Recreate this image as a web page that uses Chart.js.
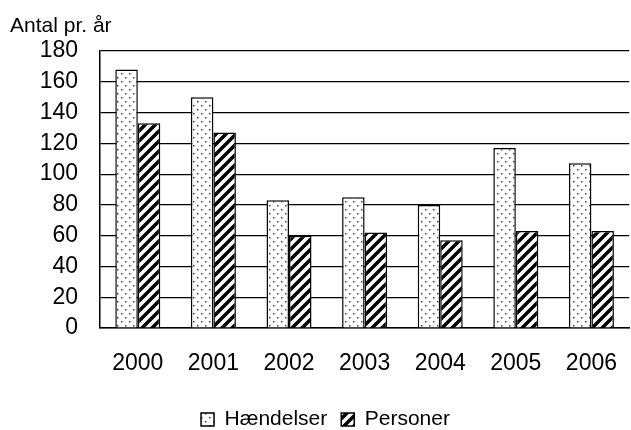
<!DOCTYPE html>
<html lang="da">
<head>
    <meta charset="UTF-8">
    <title>Antal pr. år</title>
    <script src="https://cdn.jsdelivr.net/npm/chart.js"></script>
    <style>
        html, body { margin: 0; padding: 0; background: #fff; }
        #wrap { width: 631px; height: 430px; }
    </style>
</head>
<body>
    <div id="wrap"><canvas id="chart" width="631" height="430"></canvas></div>

    <script>
        // Data
        const years = ['2000', '2001', '2002', '2003', '2004', '2005', '2006'];
        const haendelser = [168, 150, 83, 85, 80, 117, 107];
        const personer = [133, 127, 60, 62, 57, 63, 63];
        const yTicks = [0, 20, 40, 60, 80, 100, 120, 140, 160, 180];

        const FONT = "'Liberation Sans', Arial, sans-serif";

        // dotted fill
        function dotPattern() {
            const c = document.createElement('canvas');
            c.width = 8; c.height = 8;
            const g = c.getContext('2d');
            g.fillStyle = '#fff';
            g.fillRect(0, 0, 8, 8);
            g.fillStyle = '#444';
            g.fillRect(1, 1, 1.5, 1.5);
            g.fillRect(5, 5, 1.5, 1.5);
            return g.createPattern(c, 'repeat');
        }

        // diagonal stripes
        function stripePattern() {
            const s = 10;
            const c = document.createElement('canvas');
            c.width = s; c.height = s;
            const g = c.getContext('2d');
            g.fillStyle = '#fff';
            g.fillRect(0, 0, s, s);
            g.strokeStyle = '#000';
            g.lineWidth = 3.5;
            g.beginPath();
            g.moveTo(-s, s); g.lineTo(s, -s);
            g.moveTo(0, 2 * s); g.lineTo(2 * s, 0);
            g.moveTo(0, s); g.lineTo(s, 0);
            g.stroke();
            return g.createPattern(c, 'repeat');
        }

        const titlePlugin = {
            id: 'yTitle',
            afterDraw(chart) {
                const ctx = chart.ctx;
                ctx.save();
                ctx.font = '21px ' + FONT;
                ctx.fillStyle = '#000';
                ctx.textBaseline = 'alphabetic';
                ctx.textAlign = 'left';
                ctx.fillText('Antal pr. år', 10, 32);
                ctx.restore();
            }
        };

        new Chart(document.getElementById('chart'), {
            type: 'bar',
            data: {
                labels: years,
                datasets: [{
                    label: 'Hændelser',
                    data: haendelser,
                    backgroundColor: dotPattern(),
                    borderColor: '#000',
                    borderWidth: 1.5,
                    borderSkipped: 'bottom'
                }, {
                    label: 'Personer',
                    data: personer,
                    backgroundColor: stripePattern(),
                    borderColor: '#000',
                    borderWidth: 1.5,
                    borderSkipped: 'bottom'
                }]
            },
            options: {
                responsive: false,
                animation: false,
                devicePixelRatio: 1,
                datasets: {
                    bar: { categoryPercentage: 0.595, barPercentage: 1 }
                },
                layout: { padding: { top: 51, left: 20, right: 0, bottom: 0 } },
                plugins: {
                    tooltip: { enabled: false },
                    legend: {
                        position: 'bottom',
                        maxHeight: 35,
                        labels: {
                            color: '#000',
                            font: { family: FONT, size: 21 },
                            boxWidth: 13,
                            boxHeight: 13,
                            padding: 14
                        }
                    }
                },
                scales: {
                    x: {
                        grid: { display: false },
                        border: { display: true, color: '#000', width: 1.5 },
                        ticks: {
                            color: '#000',
                            font: { family: FONT, size: 23 },
                            padding: 14,
                            maxRotation: 0
                        },
                        afterFit(scale) { scale.height = 67; }
                    },
                    y: {
                        min: 0,
                        max: 180,
                        afterBuildTicks(scale) {
                            scale.ticks = yTicks.map(v => ({ value: v }));
                        },
                        grid: { color: '#000', lineWidth: 1.2, drawTicks: false },
                        border: { display: true, color: '#000', width: 1.5 },
                        ticks: {
                            color: '#000',
                            font: { family: FONT, size: 23 },
                            padding: 22,
                            autoSkip: false
                        },
                        afterFit(scale) { scale.width = 80; }
                    }
                }
            },
            plugins: [titlePlugin]
        });
    </script>
</body>
</html>
